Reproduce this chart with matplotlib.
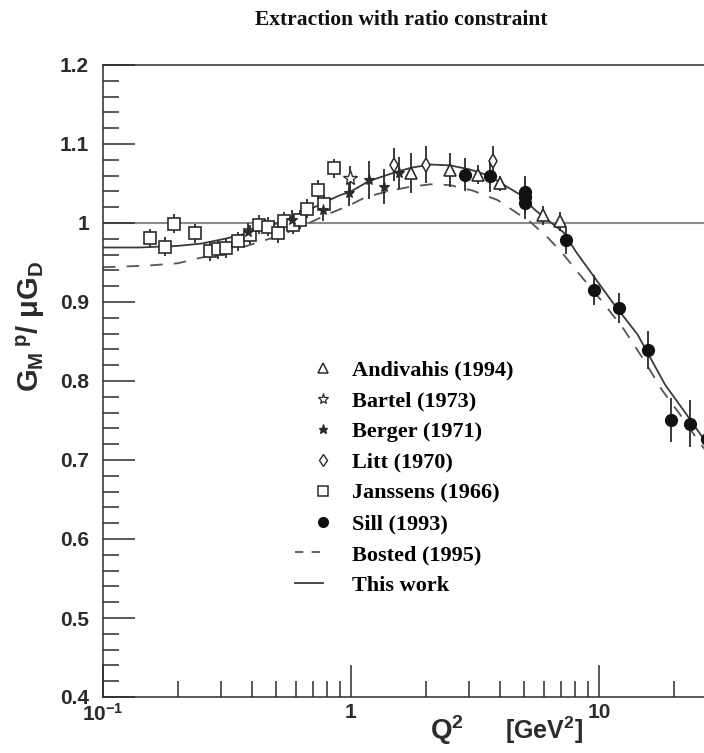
import matplotlib
matplotlib.use("Agg")
import matplotlib.pyplot as plt
import numpy as np
from matplotlib.legend_handler import HandlerLine2D
from matplotlib.lines import Line2D
from matplotlib.ticker import FixedLocator, FixedFormatter, LogLocator, MultipleLocator, FuncFormatter

plt.rcParams["font.family"] = ["Liberation Sans", "DejaVu Sans"]
plt.rcParams["mathtext.fontset"] = "custom"
plt.rcParams["mathtext.rm"] = "Liberation Sans:bold"
plt.rcParams["mathtext.it"] = "Liberation Sans:bold"
plt.rcParams["mathtext.bf"] = "Liberation Sans:bold"
plt.rcParams["lines.scale_dashes"] = False

# ---- data ----
janssens_q2 = [0.155, 0.178, 0.194, 0.234, 0.270, 0.290, 0.313, 0.350, 0.390, 0.427,
               0.464, 0.508, 0.539, 0.585, 0.620, 0.662, 0.739, 0.775, 0.857]
janssens_g = [0.981, 0.970, 0.999, 0.987, 0.964, 0.967, 0.968, 0.977, 0.985, 0.998,
              0.995, 0.987, 1.002, 0.998, 1.004, 1.018, 1.042, 1.024, 1.069]
janssens_err = [0.012] * 19

berger_q2 = [0.386, 0.576, 0.774, 0.979, 1.18, 1.36, 1.56]
berger_g = [0.988, 1.004, 1.017, 1.038, 1.055, 1.046, 1.063]
berger_err = [0.012, 0.012, 0.014, 0.016, 0.024, 0.022, 0.020]

bartel_q2 = [0.993]
bartel_g = [1.057]
bartel_err = [0.015]

litt_q2 = [1.49, 2.0, 3.74]
litt_g = [1.074, 1.074, 1.078]
litt_err = [0.021, 0.024, 0.020]

andivahis_q2 = [1.74, 2.50, 3.25, 4.0, 5.97, 6.98]
andivahis_g = [1.063, 1.067, 1.061, 1.050, 1.010, 1.002]
andivahis_err = [0.025, 0.021, 0.012, 0.010, 0.012, 0.012]

sill_q2 = [2.87, 3.63, 5.03, 5.03, 5.03, 7.33, 9.55, 12.06, 15.7, 19.5, 23.2, 27.2]
sill_g = [1.061, 1.059, 1.039, 1.033, 1.025, 0.978, 0.915, 0.893, 0.839, 0.751, 0.746, 0.727]
sill_err = [0.021, 0.020, 0.020, 0.020, 0.020, 0.017, 0.019, 0.019, 0.024, 0.028, 0.030, 0.037]

fit_q2 = [0.10, 0.14, 0.20, 0.25, 0.31, 0.36, 0.42, 0.48, 0.58, 0.68, 0.78, 0.90, 1.0,
          1.18, 1.5, 1.75, 2.1, 2.5, 3.0, 3.6, 4.2, 4.8, 5.5, 6.2, 7.2, 8.1, 9.5,
          11.5, 14.3, 18.5, 22.5, 27.5, 30.0]
fit_g = [0.969, 0.969, 0.971, 0.974, 0.980, 0.985, 0.990, 0.997, 1.008, 1.017, 1.026,
         1.035, 1.040, 1.053, 1.064, 1.070, 1.074, 1.073, 1.068, 1.060, 1.047, 1.036,
         1.017, 1.004, 0.988, 0.963, 0.933, 0.897, 0.859, 0.795, 0.758, 0.719, 0.702]

bosted_q2 = [0.10, 0.15, 0.20, 0.24, 0.30, 0.38, 0.48, 0.61, 0.79, 0.98, 1.15, 1.45,
             1.74, 2.1, 2.5, 3.1, 3.9, 4.5, 5.3, 6.2, 7.2, 8.3, 10.4, 12.5, 15.0,
             18.0, 21.2, 25.2, 30.0]
bosted_g = [0.944, 0.946, 0.949, 0.955, 0.962, 0.971, 0.981, 0.993, 1.010, 1.022,
            1.033, 1.041, 1.046, 1.049, 1.048, 1.041, 1.029, 1.016, 1.001, 0.982,
            0.960, 0.936, 0.899, 0.867, 0.829, 0.788, 0.758, 0.724, 0.692]

x_major = [0.1, 1.0, 10.0]
x_major_labels = [r"$\mathrm{10^{-1}}$", "1", "10"]

INK = "#2b2b2b"
LINE = "#3a3a3a"


class _ShortLine(HandlerLine2D):
    # line only over the left half of the handle box, markers stay centred
    def create_artists(self, legend, orig_handle, xdescent, ydescent,
                       width, height, fontsize, trans):
        return super().create_artists(legend, orig_handle, xdescent, ydescent,
                                      width * 0.5, height, fontsize, trans)


fig = plt.figure(figsize=(7.04, 7.53), dpi=100)
ax = fig.add_axes([103 / 704, 56 / 753, 614.3 / 704, 632 / 753])

ax.axhline(1.0, color="#8a8a8a", lw=1.5, zorder=1)
ax.plot(bosted_q2, bosted_g, color="#555555", lw=1.3, dashes=(9, 8), zorder=2)
ax.plot(fit_q2, fit_g, color=LINE, lw=1.3, zorder=2)

eb = dict(ls="none", ecolor=INK, elinewidth=1.3, capsize=0, zorder=3)
ax.errorbar(janssens_q2, janssens_g, yerr=janssens_err, marker="s", ms=8.5,
            mfc="white", mec=INK, mew=1.2, **eb)
ax.errorbar(berger_q2, berger_g, yerr=berger_err, marker="*", ms=8,
            mfc=INK, mec=INK, mew=0.8, **eb)
ax.errorbar(bartel_q2, bartel_g, yerr=bartel_err, marker="*", ms=11,
            mfc="white", mec=INK, mew=1.0, **eb)
ax.errorbar(litt_q2, litt_g, yerr=litt_err, marker="d", ms=7.5,
            mfc="white", mec=INK, mew=1.1, **eb)
ax.errorbar(andivahis_q2, andivahis_g, yerr=andivahis_err, marker="^", ms=8,
            mfc="white", mec=INK, mew=1.2, **eb)
ax.errorbar(sill_q2, sill_g, yerr=sill_err, marker="o", ms=8.5,
            mfc="#111111", mec="#111111", **eb)

ax.set_xscale("log")
ax.set_xlim(0.1, 30)
ax.set_ylim(0.4, 1.2)

ax.xaxis.set_major_locator(FixedLocator(x_major))
ax.xaxis.set_major_formatter(FixedFormatter(x_major_labels))
ax.xaxis.set_minor_locator(LogLocator(base=10, subs=np.arange(2, 10), numticks=20))
ax.xaxis.set_minor_formatter(FuncFormatter(lambda v, p: ""))
ax.yaxis.set_major_locator(MultipleLocator(0.1))
ax.yaxis.set_minor_locator(MultipleLocator(0.02))
ax.yaxis.set_major_formatter(FuncFormatter(lambda v, p: f"{v:g}"))

ax.tick_params(which="both", direction="in", top=False, right=False, color=INK)
ax.tick_params(which="major", length=23, width=1.1, labelsize=15)
ax.tick_params(axis="y", which="major", pad=10)
ax.tick_params(axis="x", which="major", pad=4)
ax.tick_params(which="minor", length=11.5, width=1.1)
for lab in ax.get_xticklabels() + ax.get_yticklabels():
    lab.set_fontweight("bold")
    lab.set_color(INK)
for side in ["left", "bottom", "top", "right"]:
    ax.spines[side].set_color(INK)
    ax.spines[side].set_linewidth(1.1)

fig.text(0.57, 0.973, "Extraction with ratio constraint", ha="center", va="center",
         fontsize=15.5, fontweight="bold", family=["Liberation Serif", "DejaVu Serif"],
         color="#111111")
fig.text(0.044, 0.566,
         r"G$_{\mathrm{M}}\,^{\mathrm{p}}$/ $\mathrm{\mu}$G$_{\mathrm{D}}$",
         rotation=90, ha="center", va="center", fontsize=21, fontweight="bold", color=INK)
fig.text(430 / 704, 0.03, r"Q$^{\mathrm{2}}$", ha="left", va="center",
         fontsize=20, fontweight="bold", color=INK)
fig.text(505 / 704, 0.03, r"[GeV$^{\mathrm{2}}$]", ha="left", va="center",
         fontsize=18, fontweight="bold", color=INK)

handles = [
    Line2D([], [], ls="none", marker="^", ms=6.5, mfc="white", mec=INK, mew=1.1),
    Line2D([], [], ls="none", marker="*", ms=8, mfc="white", mec=INK, mew=0.9),
    Line2D([], [], ls="none", marker="*", ms=6.5, mfc=INK, mec=INK),
    Line2D([], [], ls="none", marker="d", ms=6, mfc="white", mec=INK, mew=1.0),
    Line2D([], [], ls="none", marker="s", ms=7, mfc="white", mec=INK, mew=1.1),
    Line2D([], [], ls="none", marker="o", ms=7, mfc="#111111", mec="#111111"),
    Line2D([], [], color="#555555", lw=1.3, dashes=(6, 6)),
    Line2D([], [], color=LINE, lw=1.3),
]
labels = ["Andivahis (1994)", "Bartel (1973)", "Berger (1971)", "Litt (1970)",
          "Janssens (1966)", "Sill (1993)", "Bosted (1995)", "This work"]
short = _ShortLine()
fig.legend(handles, labels, loc="upper left", bbox_to_anchor=(295 / 704, 1 - 360 / 753),
           frameon=False, borderpad=0, borderaxespad=0, handlelength=2.5,
           handletextpad=0.05, labelspacing=0.46,
           handler_map={handles[6]: short, handles[7]: short},
           prop={"family": ["Liberation Serif", "DejaVu Serif"], "weight": "bold", "size": 16})

fig.savefig("out.png", dpi=100, facecolor="white")
